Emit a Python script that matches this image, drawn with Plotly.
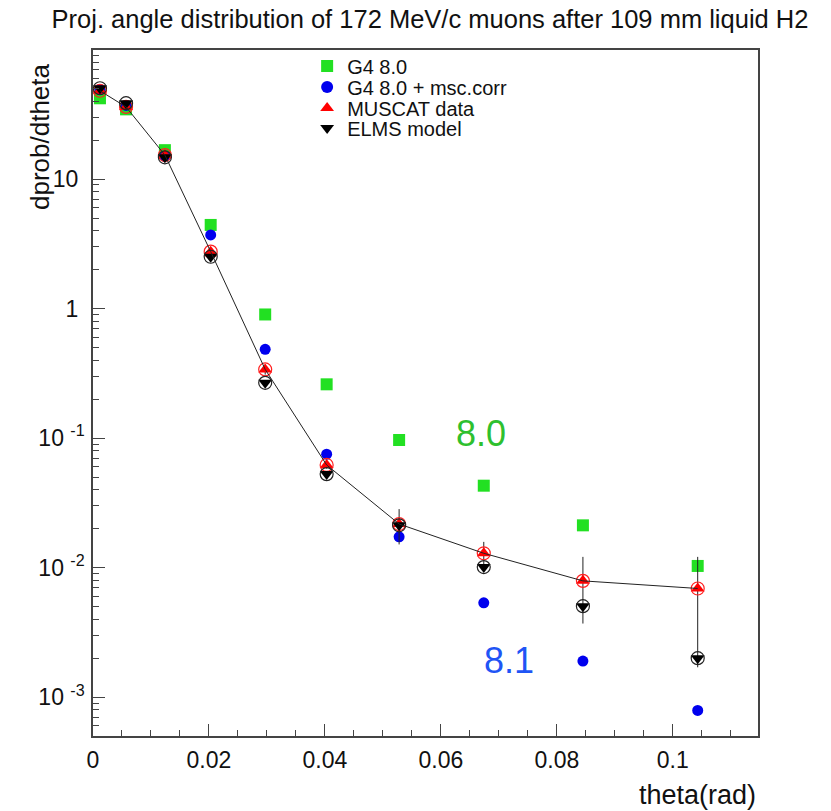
import plotly.graph_objects as go

# ---- data ----
theta = [0.0012, 0.0057, 0.0124, 0.0203, 0.0297, 0.0403, 0.0528, 0.0674, 0.0845, 0.1043]
g4_80 = [42.0, 34.5, 16.7, 4.42, 0.90, 0.26, 0.0966, 0.0429, 0.0212, 0.0103]
g4_80_msc = [49.0, 37.0, 15.0, 3.70, 0.484, 0.0751, 0.0173, 0.00535, 0.0019, 0.00079]
muscat = [48.0, 36.0, 15.3, 2.75, 0.339, 0.062, 0.0217, 0.0129, 0.0079, 0.0069]
muscat_err = [1.5, 1.2, 0.6, 0.15, 0.03, 0.004, 0.0066, 0.0029, 0.0042, 0.0052]
elms = [50.2, 38.5, 14.7, 2.51, 0.267, 0.0527, 0.0212, 0.0101, 0.00504, 0.0020]

series_names = ["G4 8.0", "G4 8.0 + msc.corr", "MUSCAT data", "ELMS model"]

x_tickvals = [0, 0.02, 0.04, 0.06, 0.08, 0.1]
x_ticktext = ["0", "0.02", "0.04", "0.06", "0.08", "0.1"]
y_tickvals = [1e-3, 1e-2, 1e-1, 1, 10]
y_ticktext = ["10 <sup>-3</sup>", "10 <sup>-2</sup>", "10 <sup>-1</sup>",
              "1\u00a0", "10\u00a0"]
y_minor = [m * 10.0 ** e for e in range(-4, 2) for m in range(2, 10)]

title_text = "Proj. angle distribution of 172 MeV/c muons after 109 mm liquid H2"

FONT = "Liberation Sans, Arial, sans-serif"
TXT = "#111111"

fig = go.Figure()

fig.add_trace(go.Scatter(x=theta, y=g4_80, mode="markers", name=series_names[0],
                         legend="legend",
                         marker=dict(symbol="square", size=12, color="#22e022")))
fig.add_trace(go.Scatter(x=theta, y=g4_80_msc, mode="markers", name=series_names[1],
                         legend="legend2",
                         marker=dict(symbol="circle", size=11, color="#0000ee")))
fig.add_trace(go.Scatter(x=theta, y=muscat, mode="markers", name=series_names[2],
                         legend="legend3",
                         marker=dict(symbol="triangle-up", size=12, color="#ff0000"),
                         error_y=dict(type="data", array=muscat_err, color="#222222",
                                      thickness=1, width=0)))
fig.add_trace(go.Scatter(x=theta, y=muscat, mode="markers", showlegend=False,
                         marker=dict(symbol="circle-open", size=13, color="#ff2020",
                                     line=dict(width=1.2))))
fig.add_trace(go.Scatter(x=theta, y=elms, mode="markers", name=series_names[3],
                         legend="legend4",
                         marker=dict(symbol="triangle-down", size=12, color="#000000")))
fig.add_trace(go.Scatter(x=theta, y=elms, mode="markers", showlegend=False,
                         marker=dict(symbol="circle-open", size=13, color="#222222",
                                     line=dict(width=1.2))))
fig.add_trace(go.Scatter(x=theta, y=muscat, mode="lines", showlegend=False,
                         line=dict(color="#222222", width=1)))


def leg(row_center_px):
    return dict(x=0.322, y=(736 - row_center_px) / 686, xanchor="left", yanchor="middle",
                bgcolor="rgba(0,0,0,0)", borderwidth=0,
                font=dict(size=20, family=FONT, color=TXT), itemsizing="constant")


fig.update_layout(
    width=831, height=811,
    margin=dict(l=93, r=73, t=50, b=75, autoexpand=False),
    paper_bgcolor="white", plot_bgcolor="white",
    font=dict(family=FONT, color=TXT),
    title=dict(text=title_text, x=430 / 831, y=1 - 19 / 811,
               xanchor="center", yanchor="middle",
               font=dict(size=25.5, family=FONT, color=TXT)),
    showlegend=True,
    legend=leg(66), legend2=leg(87), legend3=leg(108), legend4=leg(128),
)

fig.update_xaxes(
    range=[0, 0.1147], showgrid=False, zeroline=False,
    showline=True, linecolor="#444444", linewidth=1.5, mirror=True,
    tickmode="array", tickvals=x_tickvals, ticktext=x_ticktext,
    ticks="inside", ticklen=12, tickcolor="#444444", tickwidth=1,
    tickfont=dict(size=23, family=FONT, color=TXT),
    ticklabelstandoff=3,
    minor=dict(dtick=0.005, tick0=0, ticks="inside", ticklen=6,
               tickcolor="#444444", tickwidth=1, showgrid=False),
)
fig.update_yaxes(
    type="log", range=[-3.30, 1.996], showgrid=False, zeroline=False,
    showline=True, linecolor="#444444", linewidth=1.5, mirror=True,
    tickmode="array", tickvals=y_tickvals, ticktext=y_ticktext,
    ticks="inside", ticklen=12, tickcolor="#444444", tickwidth=1,
    tickfont=dict(size=23, family=FONT, color=TXT),
    ticklabelstandoff=2,
    minor=dict(tickmode="array", tickvals=y_minor, ticks="inside", ticklen=6,
               tickcolor="#444444", tickwidth=1, showgrid=False),
)

# axis titles (ROOT style: aligned to the axis end)
fig.add_annotation(text="dprob/dtheta", xref="paper", yref="paper",
                   x=(40 - 93) / 665, y=(736 - 137) / 686, textangle=-90,
                   xanchor="center", yanchor="middle", showarrow=False,
                   font=dict(size=26, family=FONT, color=TXT))
fig.add_annotation(text="theta(rad)", xref="paper", yref="paper",
                   x=1.0, y=(736 - 795) / 686, xanchor="right", yanchor="middle",
                   showarrow=False, font=dict(size=27, family=FONT, color=TXT))

# version labels
fig.add_annotation(text="8.0", xref="paper", yref="paper",
                   x=(481 - 93) / 665, y=(736 - 433) / 686,
                   xanchor="center", yanchor="middle", showarrow=False,
                   font=dict(size=36, family=FONT, color="#2ec02e"))
fig.add_annotation(text="8.1", xref="paper", yref="paper",
                   x=(509 - 93) / 665, y=(736 - 660) / 686,
                   xanchor="center", yanchor="middle", showarrow=False,
                   font=dict(size=36, family=FONT, color="#1f55f5"))

fig.write_html("out.html")
